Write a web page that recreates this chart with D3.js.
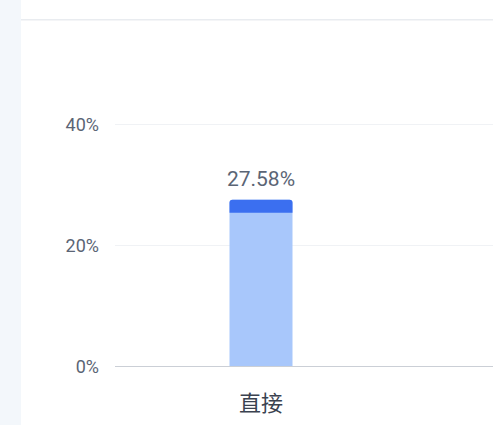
<!DOCTYPE html>
<html>
<head>
<meta charset="utf-8">
<script src="https://cdn.jsdelivr.net/npm/d3@7"></script>
<style>
  html, body { margin: 0; padding: 0; background: #fff; }
  #chart { width: 493px; height: 425px; }
</style>
</head>
<body>
<div id="chart"></div>
<script>
// data
const categories = ["直接"];
const shares = [27.58];
const yTicks = [0, 20, 40];

const width = 493, height = 425;
const font = "Roboto, 'Noto Sans CJK SC', sans-serif";
const cjkFont = "'Noto Sans CJK SC', sans-serif";

const svg = d3.select("#chart").append("svg")
  .attr("width", width)
  .attr("height", height);

// page chrome: left strip and card header border
svg.append("rect")
  .attr("x", 0).attr("y", 0)
  .attr("width", 21).attr("height", height)
  .attr("fill", "#f3f7fb");
svg.append("rect")
  .attr("x", 21).attr("y", 19)
  .attr("width", width - 21).attr("height", 1.5)
  .attr("fill", "#e9ecf0");

const left = 115, baseY = 366.5, topY = 124.5;

const yScale = d3.scaleLinear()
  .domain([0, 40])
  .range([baseY, topY]);

const xScale = d3.scaleBand()
  .domain(categories)
  .range([left, 407])
  .padding(0);

// grid lines
svg.append("g")
  .selectAll("line")
  .data(yTicks.filter(d => d > 0))
  .enter()
  .append("line")
  .attr("x1", left).attr("x2", width)
  .attr("y1", d => yScale(d)).attr("y2", d => yScale(d))
  .attr("stroke", "#f0f2f5")
  .attr("stroke-width", 1);

// y axis labels
const yAxis = d3.axisLeft(yScale)
  .tickValues(yTicks)
  .tickFormat(d => d + "%")
  .tickSize(0)
  .tickPadding(16);

const yg = svg.append("g")
  .attr("transform", "translate(" + left + ",0)")
  .call(yAxis);
yg.select(".domain").remove();
yg.selectAll("text")
  .attr("fill", "#5b6575")
  .style("font-family", font)
  .style("font-size", "18px");

// bars
const barW = 63;
const capH = 13;
const bars = svg.append("g")
  .selectAll("g")
  .data(categories.map((c, i) => ({ name: c, value: shares[i] })))
  .enter()
  .append("g");

function barPath(x, y, w, h, r) {
  return "M" + x + "," + (y + h) +
    "V" + (y + r) +
    "Q" + x + "," + y + " " + (x + r) + "," + y +
    "H" + (x + w - r) +
    "Q" + (x + w) + "," + y + " " + (x + w) + "," + (y + r) +
    "V" + (y + h) + "Z";
}

bars.append("path")
  .attr("d", d => {
    const x = xScale(d.name) + xScale.bandwidth() / 2 - barW / 2;
    const y = yScale(d.value);
    return barPath(x, y, barW, baseY - y, 3);
  })
  .attr("fill", "#a8c7fb");

bars.append("path")
  .attr("d", d => {
    const x = xScale(d.name) + xScale.bandwidth() / 2 - barW / 2;
    const y = yScale(d.value);
    return barPath(x, y, barW, capH, 3);
  })
  .attr("fill", "#3b6ff0");

bars.append("text")
  .attr("x", d => xScale(d.name) + xScale.bandwidth() / 2)
  .attr("y", d => yScale(d.value) - 14)
  .attr("text-anchor", "middle")
  .attr("fill", "#5b6575")
  .style("font-family", font)
  .style("font-size", "21px")
  .text(d => d.value.toFixed(2) + "%");

// baseline
svg.append("line")
  .attr("x1", left).attr("x2", width)
  .attr("y1", baseY).attr("y2", baseY)
  .attr("stroke", "#cbcfd6")
  .attr("stroke-width", 1.2);

// x axis labels
const xAxis = d3.axisBottom(xScale).tickSize(0).tickPadding(29);
const xg = svg.append("g")
  .attr("transform", "translate(0," + baseY + ")")
  .call(xAxis);
xg.select(".domain").remove();
xg.selectAll("text")
  .attr("fill", "#3a4250")
  .style("font-family", cjkFont)
  .style("font-size", "22px");
</script>
</body>
</html>
